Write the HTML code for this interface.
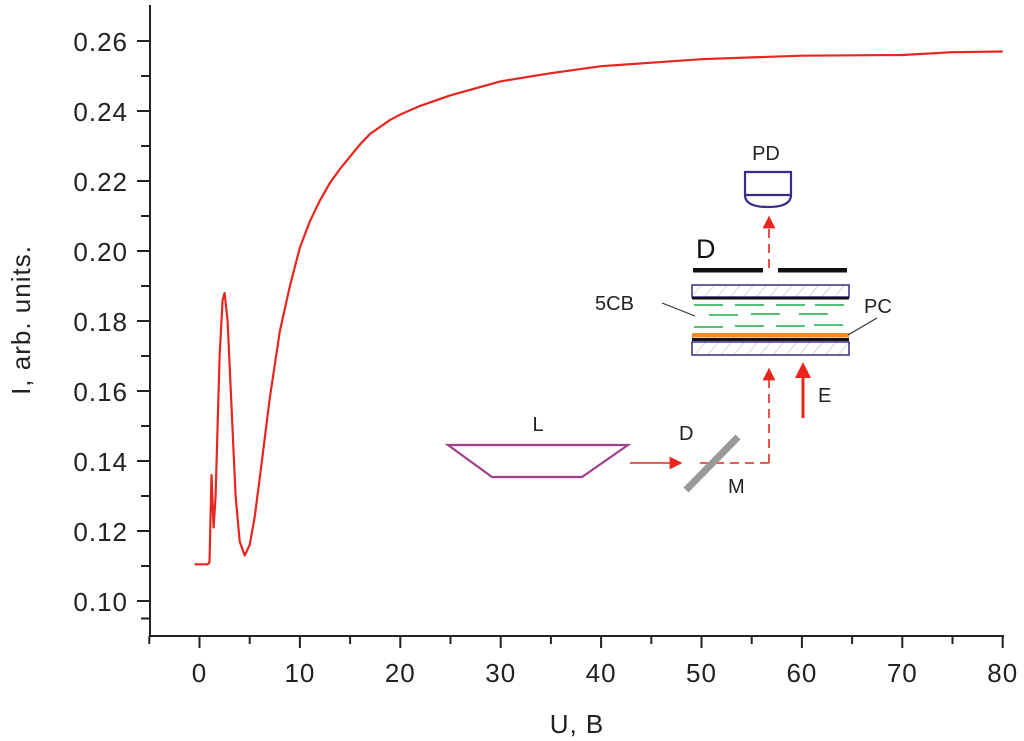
<!DOCTYPE html>
<html><head><meta charset="utf-8"><style>
body{margin:0;background:#fff}
svg{display:block;font-family:"Liberation Sans",Arial,sans-serif}
</style></head><body>
<svg id="c" width="1024" height="741" viewBox="0 0 1024 741">
<defs>
<pattern id="hatch" width="10" height="10" patternUnits="userSpaceOnUse" patternTransform="rotate(40)">
<line x1="0" y1="0" x2="0" y2="10" stroke="#c9b9b0" stroke-width="1.2"/></pattern>
<marker id="ah" markerWidth="8" markerHeight="8" refX="4" refY="4" orient="auto"><path d="M0,0 L8,4 L0,8 Z" fill="#e8251e"/></marker>
</defs>
<g id="axes"></g>
<path id="curve" fill="none" stroke="#e8251e" stroke-width="2.2" stroke-linejoin="round"/>
<text x="577" y="733" font-size="26" letter-spacing="1" text-anchor="middle" fill="#222">U, B</text>
<text transform="translate(30,320) rotate(-90)" font-size="26" letter-spacing="1" text-anchor="middle" fill="#222">I, arb. units.</text>
<g>
<text x="766" y="160" font-size="20" text-anchor="middle" fill="#222">PD</text>
<path d="M745,172 H791 V195 Q791,207 768,207 Q745,207 745,195 Z M745,195 H791" fill="none" stroke="#3a2a8c" stroke-width="2.2"/>
<line x1="769" y1="268" x2="769" y2="222" stroke="#e8251e" stroke-width="1.6" stroke-dasharray="9,6" marker-end="url(#ah)"/>
<text x="696" y="258" font-size="27" fill="#111">D</text>
<rect x="693" y="268" width="70" height="4.5" fill="#111"/>
<rect x="778" y="268" width="69" height="4.5" fill="#111"/>
<rect x="692" y="285" width="157" height="12" fill="url(#hatch)" stroke="#3a2a8c" stroke-width="1.5"/>
<rect x="692" y="297" width="157" height="2.5" fill="#111"/>
<g stroke="#1faa4a" stroke-width="1.6">
<line x1="694" y1="305" x2="723" y2="305"/><line x1="735" y1="305" x2="764" y2="305"/><line x1="776" y1="305" x2="805" y2="305"/><line x1="815" y1="305" x2="844" y2="305"/>
<line x1="709" y1="315" x2="738" y2="315"/><line x1="751" y1="314" x2="780" y2="314"/><line x1="799" y1="314" x2="828" y2="314"/>
<line x1="694" y1="327" x2="723" y2="327"/><line x1="735" y1="326" x2="764" y2="326"/><line x1="776" y1="326" x2="805" y2="326"/><line x1="814" y1="325" x2="843" y2="325"/>
</g>
<rect x="692" y="333" width="157" height="4.5" fill="#f08a2c"/>
<rect x="692" y="338" width="157" height="3" fill="#111"/>
<rect x="692" y="342" width="157" height="13" fill="url(#hatch)" stroke="#3a2a8c" stroke-width="1.5"/>
<text x="595" y="310" font-size="20" fill="#222">5CB</text>
<line x1="662" y1="303" x2="695" y2="316" stroke="#333" stroke-width="1.2"/>
<text x="864" y="313" font-size="20" fill="#222">PC</text>
<line x1="877" y1="318" x2="848" y2="335" stroke="#333" stroke-width="1.2"/>
<line x1="769" y1="463" x2="769" y2="374" stroke="#e8251e" stroke-width="1.6" stroke-dasharray="9,6" marker-end="url(#ah)"/>
<line x1="700" y1="463" x2="769" y2="463" stroke="#e8251e" stroke-width="1.6" stroke-dasharray="9,6"/>
<line x1="630" y1="463" x2="676" y2="463" stroke="#e8251e" stroke-width="1.6" marker-end="url(#ah)"/>
<line x1="803" y1="418" x2="803" y2="372" stroke="#e8251e" stroke-width="3"/>
<path d="M795,378 L803,362 L811,378 Z" fill="#e8251e"/>
<text x="818" y="402" font-size="20" fill="#222">E</text>
<text x="538" y="431" font-size="20" text-anchor="middle" fill="#222">L</text>
<path d="M448,445 H628 L582,477 H492 Z" fill="none" stroke="#a0408c" stroke-width="2.2"/>
<text x="679" y="440" font-size="20" fill="#222">D</text>
<line x1="686" y1="490" x2="738" y2="437" stroke="#999" stroke-width="7"/>
<text x="728" y="493" font-size="20" fill="#222">M</text>
</g>
</svg>
<script>
const uVals=[-0.5,0.8,1.0,1.2,1.4,1.6,2.0,2.3,2.5,2.8,3.2,3.6,4.0,4.5,5.0,5.5,6,7,8,9,10,11,12,13,14,15,16,17,18,19,20,22,25,30,35,40,45,50,55,60,70,75,80];
const iVals=[0.1105,0.1105,0.111,0.136,0.121,0.130,0.170,0.186,0.188,0.180,0.155,0.130,0.117,0.113,0.116,0.124,0.135,0.158,0.177,0.190,0.201,0.2085,0.2145,0.2195,0.2235,0.227,0.2305,0.2335,0.2355,0.2375,0.239,0.2415,0.2445,0.2485,0.2508,0.2528,0.2538,0.2548,0.2553,0.2558,0.256,0.2568,0.257];
const xTicks=[0,10,20,30,40,50,60,70,80];
const yTicks=[0.10,0.12,0.14,0.16,0.18,0.20,0.22,0.24,0.26];
const NS='http://www.w3.org/2000/svg';
const X=u=>199.5+u*10.04;
const Y=v=>601-(v-0.10)*3500;
const ax=document.getElementById('axes');
function mk(t,a){const e=document.createElementNS(NS,t);for(const k in a)e.setAttribute(k,a[k]);ax.appendChild(e);return e;}
let e=mk('line',{x1:150,y1:5,x2:150,y2:637,stroke:'#222','stroke-width':2});


e=mk('line',{x1:149,y1:636,x2:1004,y2:636,stroke:'#222','stroke-width':2});


for(let u=-5;u<=80;u+=5){const maj=u%10===0;mk('line',{x1:X(u),x2:X(u),y1:636,y2:maj?648:644,stroke:'#222','stroke-width':2});}
for(let k=0;k<=16;k++){const v=0.10+k*0.01;mk('line',{x1:k%2?141:137,x2:150,y1:Y(v),y2:Y(v),stroke:'#222','stroke-width':2});}
mk('line',{x1:141,x2:150,y1:Y(0.095),y2:Y(0.095),stroke:'#222','stroke-width':2});
xTicks.forEach(t=>{const l=mk('text',{x:X(t),y:682,'font-size':26,'letter-spacing':1,'text-anchor':'middle',fill:'#222'});l.textContent=t;

});
yTicks.forEach(t=>{const l=mk('text',{x:128,y:Y(t)+10,'font-size':26,'letter-spacing':1,'text-anchor':'end',fill:'#222'});l.textContent=t.toFixed(2);

});
document.getElementById('curve').setAttribute('d',uVals.map((u,i)=>(i?'L':'M')+X(u).toFixed(1)+','+Y(iVals[i]).toFixed(1)).join(' '));
</script>
</body></html>
